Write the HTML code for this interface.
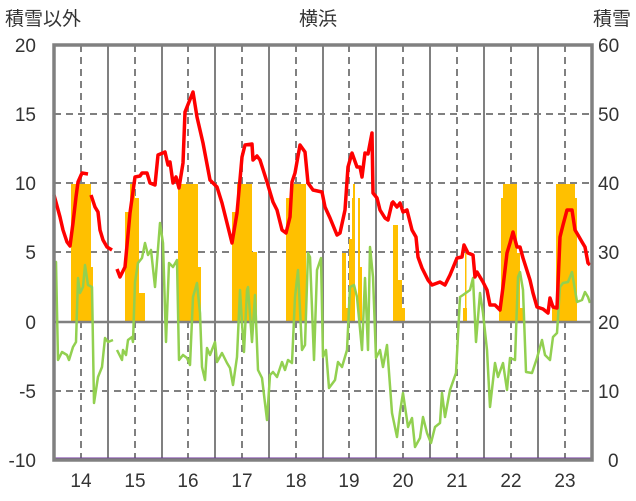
<!DOCTYPE html>
<html><head><meta charset="utf-8"><style>
html,body{margin:0;padding:0;background:#fff}
svg{display:block}
text{font-family:"Liberation Sans","Noto Sans CJK JP",sans-serif;fill:#333;font-size:19px}
</style></head><body>
<svg width="636" height="501" viewBox="0 0 636 501" xmlns="http://www.w3.org/2000/svg">
<rect width="636" height="501" fill="#fff"/>
<g stroke="#808080" stroke-width="2" stroke-dasharray="7,5">
<line x1="54" y1="114" x2="592" y2="114"/><line x1="54" y1="183" x2="592" y2="183"/><line x1="54" y1="252" x2="592" y2="252"/><line x1="54" y1="391" x2="592" y2="391"/>
<line x1="81" y1="45" x2="81" y2="460"/><line x1="135" y1="45" x2="135" y2="460"/><line x1="188" y1="45" x2="188" y2="460"/><line x1="242" y1="45" x2="242" y2="460"/><line x1="296" y1="45" x2="296" y2="460"/><line x1="349" y1="45" x2="349" y2="460"/><line x1="403" y1="45" x2="403" y2="460"/><line x1="457" y1="45" x2="457" y2="460"/><line x1="511" y1="45" x2="511" y2="460"/><line x1="565" y1="45" x2="565" y2="460"/>
</g>
<g stroke="#808080" stroke-width="2">
<line x1="108" y1="45" x2="108" y2="460"/><line x1="162" y1="45" x2="162" y2="460"/><line x1="215" y1="45" x2="215" y2="460"/><line x1="269" y1="45" x2="269" y2="460"/><line x1="323" y1="45" x2="323" y2="460"/><line x1="376" y1="45" x2="376" y2="460"/><line x1="430" y1="45" x2="430" y2="460"/><line x1="484" y1="45" x2="484" y2="460"/><line x1="538" y1="45" x2="538" y2="460"/>
</g>
<g fill="#FFC000">
<rect x="71" y="184" width="20" height="138"/><rect x="88" y="267" width="5" height="55"/>
<rect x="125" y="212" width="5" height="110"/><rect x="130" y="184" width="5" height="138"/><rect x="135" y="198" width="4" height="124"/><rect x="139" y="293" width="6" height="29"/>
<rect x="178" y="184" width="20" height="138"/><rect x="198" y="267" width="3" height="55"/>
<rect x="232" y="212" width="5" height="110"/><rect x="237" y="184" width="15" height="138"/><rect x="252" y="252" width="5" height="70"/>
<rect x="286" y="198" width="4" height="124"/><rect x="290" y="184" width="16" height="138"/>
<rect x="342" y="253" width="4" height="69"/><rect x="346" y="308" width="3" height="14"/><rect x="349" y="239" width="3" height="83"/><rect x="352" y="198" width="1.5" height="124"/><rect x="353" y="184" width="2" height="138"/><rect x="358" y="198" width="2" height="124"/><rect x="360" y="267" width="2" height="55"/>
<rect x="393" y="225" width="5" height="97"/><rect x="398" y="280" width="4" height="42"/><rect x="402" y="308" width="3" height="14"/>
<rect x="463" y="308" width="4" height="14"/><rect x="465" y="253" width="1.5" height="69"/>
<rect x="499" y="308" width="4" height="14"/><rect x="501" y="198" width="2" height="124"/><rect x="503" y="184" width="14" height="138"/><rect x="517" y="253" width="3" height="69"/><rect x="520" y="308" width="3" height="14"/>
<rect x="552" y="308" width="4" height="14"/><rect x="556" y="184" width="19" height="138"/><rect x="575" y="198" width="2" height="124"/>
</g>
<line x1="54" y1="322" x2="592" y2="322" stroke="#808080" stroke-width="2.5"/>
<g fill="none" stroke="#92D050" stroke-width="2.5" stroke-linejoin="round">
<polyline points="54,263 56,262 58,360 62,352 67,355 69,360 73,347 76,342 78,278 80,293 83,287 85,265 88,285 92,287 94,403 98,377 102,367 105,338 108,342 113,340"/>
<polyline points="117,350 122,360 123,350 126,355 128,340 132,337 133,342 135,282 138,263 142,258 145,243 148,255 151,250 155,287 160,223 163,243 166,342 169,263 173,267 177,260 179,360 183,355 187,358 190,365 193,297 197,283 200,313 202,367 205,380 207,348 210,355 215,342 217,362 222,353 227,363 230,368 233,385 237,357 240,290 242,323 244,352 247,290 248,287 252,342 255,295 258,370 262,378 267,420 270,375 273,372 277,377 282,362 285,370 288,360 292,363 295,297 298,270 302,350 305,345 308,253 310,257 314,360 317,270 321,258 323,357 326,350 329,388 335,380 338,362 342,367 347,350 350,287 354,285 357,297 362,350 365,278 368,350 370,247 373,277 376,358 380,350 383,367 387,345 392,413 397,437 400,412 403,393 408,427 412,418 415,447 420,438 423,417 427,433 431,443 435,427 440,423 442,393 445,417 450,390 456,373 460,297 463,295 470,290 473,278 476,342 480,293 483,313 487,350 490,407 495,363 498,377 503,363 507,390 510,358 515,360 518,277 520,272 523,290 526,372 532,373 537,358 542,340 545,355 550,360 553,337 557,333 560,287 563,283 568,282 572,272 577,302 582,300 585,292 588,297 590,303"/>
</g>
<g fill="none" stroke="#FF0000" stroke-width="3.5" stroke-linejoin="round">
<polyline points="54,195 60,217 63,230 67,242 70,246 73,223 76,197 78,182 82,173 88,174"/>
<polyline points="91,195 95,207 98,212 100,230 103,240 107,247 112,250"/>
<polyline points="117,269 120,277 125,267 130,213 135,177 140,176 142,173 147,173 150,183 155,185 158,155 165,152 168,165 170,162 173,183 176,177 179,188 183,163 185,112 193,92 197,117 203,143 210,180 217,187 222,203 227,223 232,243 237,213 242,157 245,145 252,144 253,160 257,156 260,160 267,182 273,202 277,210 282,230 286,233 290,217 292,182 295,173 300,145 305,152 308,183 313,190 322,192 325,207 330,218 337,235 340,233 345,210 348,167 352,153 357,167 360,167 362,177 365,153 368,154 372,133 373,193 377,198 380,210 385,218 388,220 392,203 393,202 397,207 400,203 403,212 407,210 412,230 416,237 418,257 422,268 428,280 432,285 440,282 445,285 450,275 457,258 462,257 464,245 468,253 473,255 475,277 477,272 483,282 487,290 490,305 495,305 500,310 503,287 507,253 510,243 513,232 517,247 520,247 523,258 530,280 533,293 537,307 540,308 543,309 548,313 550,298 553,307 557,308 560,237 563,225 567,210 572,210 575,230 578,235 582,242 585,247 588,263 590,265"/>
</g>
<line x1="54" y1="459" x2="592" y2="459" stroke="#7030A0" stroke-width="3"/>
<rect x="54" y="45" width="538" height="415" fill="none" stroke="#808080" stroke-width="3.5"/>
<text x="5" y="25">積雪以外</text>
<text x="318" y="25" text-anchor="middle">横浜</text>
<text x="631" y="25" text-anchor="end">積雪</text>
<g text-anchor="end">
<text x="36" y="52">20</text><text x="36" y="121">15</text><text x="36" y="190">10</text><text x="36" y="259">5</text><text x="36" y="329">0</text><text x="36" y="398">-5</text><text x="36" y="467">-10</text>
</g>
<g text-anchor="start">
<text x="598" y="52">60</text><text x="598" y="121">50</text><text x="598" y="190">40</text><text x="598" y="259">30</text><text x="598" y="329">20</text><text x="598" y="398">10</text><text x="608" y="467">0</text>
</g>
<g text-anchor="middle">
<text x="81" y="487">14</text><text x="135" y="487">15</text><text x="188" y="487">16</text><text x="242" y="487">17</text><text x="296" y="487">18</text><text x="349" y="487">19</text><text x="403" y="487">20</text><text x="457" y="487">21</text><text x="511" y="487">22</text><text x="565" y="487">23</text>
</g>
</svg>
</body></html>
